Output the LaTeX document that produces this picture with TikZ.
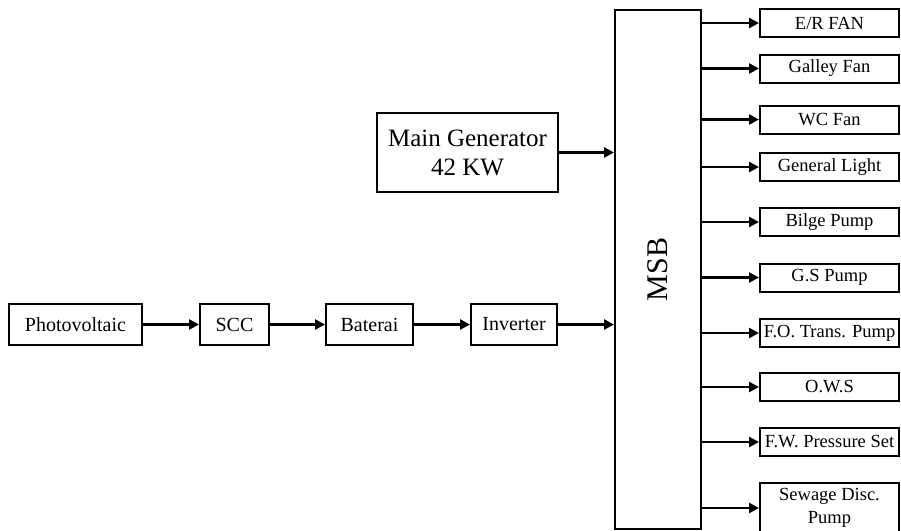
\documentclass[tikz,border=0pt]{standalone}
\usepackage{fontspec}
\setmainfont{Liberation Serif}
\usetikzlibrary{arrows.meta}
\begin{document}
\begin{tikzpicture}[x=1pt,y=-1pt,
  box/.style={draw, line width=2pt, inner sep=0pt, align=center},
  lbox/.style={box, font=\fontsize{20}{22}\selectfont},
  rbox/.style={box, minimum width=139pt, minimum height=28pt, font=\fontsize{18.5}{20}\selectfont},
  arr/.style={line width=2.8pt, -{Triangle[length=10pt,width=10pt]}}]
\useasboundingbox (0,0) rectangle (901,530);
% left chain
\node[lbox, minimum width=133pt, minimum height=41pt] (pv) at (75.5,324.5) {Photovoltaic};
\node[lbox, minimum width=69pt, minimum height=41pt] (scc) at (234.5,324.5) {SCC};
\node[lbox, minimum width=87pt, minimum height=41pt] (bat) at (369.5,324.5) {Baterai};
\node[lbox, minimum width=86pt, minimum height=41pt] (inv) at (514,324.5) {Inverter};
\node[box, minimum width=181pt, minimum height=79pt, font=\fontsize{25}{29}\selectfont] (gen) at (467.5,152.5) {Main Generator\\42 KW};
% MSB
\node[box, minimum width=86pt, minimum height=519pt] (msb) at (658,269.5) {};
\node[rotate=90, font=\fontsize{30}{32}\selectfont] (msbl) at (msb.center) {MSB};
% right boxes
\node[rbox] (r1) at (829.5,23) {E/R FAN};
\node[rbox] (r2) at (829.5,68.5) {Galley Fan};
\node[rbox] (r3) at (829.5,119.5) {WC Fan};
\node[rbox] (r4) at (829.5,167) {General Light};
\node[rbox] (r5) at (829.5,222) {Bilge Pump};
\node[rbox] (r6) at (829.5,277.5) {G.S Pump};
\node[rbox] (r7) at (829.5,333) {F.O. Trans. Pump};
\node[rbox] (r8) at (829.5,387) {O.W.S};
\node[rbox] (r9) at (829.5,442) {F.W. Pressure Set};
\node[rbox, minimum height=50pt, font=\fontsize{18.5}{23}\selectfont] (r10) at (829.5,508) {Sewage Disc.\\Pump};
% connectors
\draw[arr] (pv.east) -- (scc.west);
\draw[arr] (scc.east) -- (bat.west);
\draw[arr] (bat.east) -- (inv.west);
\draw[arr] (inv.east) -- (inv.east -| msb.west);
\draw[arr] (gen.east) -- (gen.east -| msb.west);
\foreach \r in {r1,r2,r3,r4,r5,r6,r7,r8,r9,r10}
  \draw[arr] (msb.east |- \r.west) -- (\r.west);
\end{tikzpicture}
\end{document}
